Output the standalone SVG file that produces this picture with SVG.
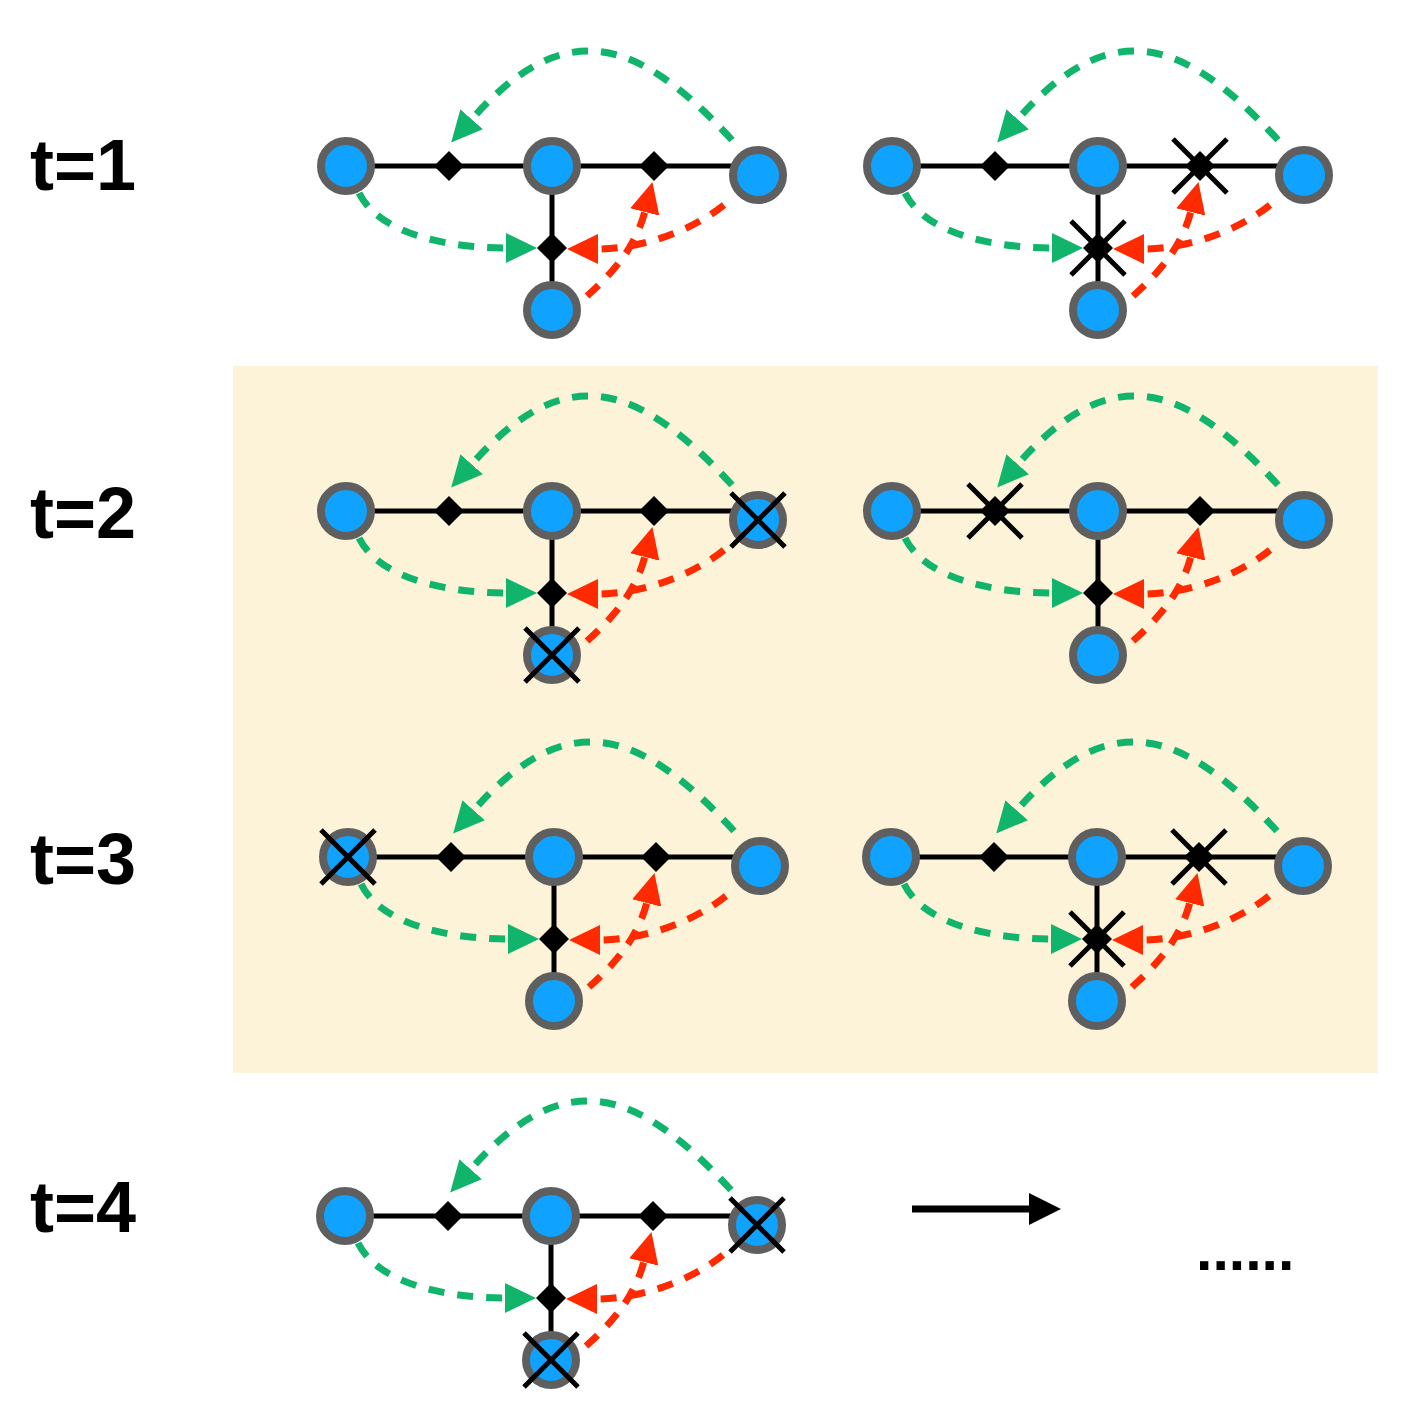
<svg xmlns="http://www.w3.org/2000/svg" xmlns:xlink="http://www.w3.org/1999/xlink" width="1408" height="1412" viewBox="0 0 1408 1412">
<style>
.edge{fill:none;stroke:#000;stroke-width:5}
.node{fill:#10a2ff;stroke:#5f5f5f;stroke-width:8}
.dia{fill:#000}
.xm{fill:none;stroke:#000;stroke-width:5}
.g{fill:none;stroke:#10b46a;stroke-width:7;stroke-dasharray:16 13}
.r{fill:none;stroke:#ff2a00;stroke-width:7;stroke-dasharray:16 13}
.lbl{font-family:"Liberation Sans",Arial,sans-serif;font-weight:bold;font-size:72px;fill:#000}
</style>
<defs>
<marker id="ag" markerUnits="userSpaceOnUse" viewBox="0 0 31 30" refX="1" refY="15" markerWidth="31" markerHeight="30" orient="auto"><path d="M0,0 L31,15 L0,30 Z" fill="#10b46a"/></marker>
<marker id="ar" markerUnits="userSpaceOnUse" viewBox="0 0 31 30" refX="1" refY="15" markerWidth="31" markerHeight="30" orient="auto"><path d="M0,0 L31,15 L0,30 Z" fill="#ff2a00"/></marker>
<path id="dm" class="dia" d="M0,-15 L15,0 L0,15 L-15,0 Z"/>
<path id="xx" class="xm" d="M-27,-27 L27,27 M27,-27 L-27,27"/>
</defs>
<rect x="0" y="0" width="1408" height="1412" fill="#fff"/>
<rect id="panel" x="233" y="366" width="1145" height="707" fill="#fdf3d9"/>

<g id="labels">
<text class="lbl" x="30" y="190">t=1</text>
<text class="lbl" x="30" y="538">t=2</text>
<text class="lbl" x="30" y="884">t=3</text>
<text class="lbl" x="30" y="1232">t=4</text>
</g>

<!-- t=1 left -->
<g id="t1a" transform="translate(0,0)">
<g id="t1a-edges"><path class="edge" d="M346,166 H758 M552,166 V310"/></g>
<g id="t1a-n1"><circle class="node" cx="346" cy="166" r="25"/></g>
<g id="t1a-n2"><circle class="node" cx="552" cy="166" r="25"/></g>
<g id="t1a-n3"><circle class="node" cx="758" cy="175" r="25"/></g>
<g id="t1a-n4"><circle class="node" cx="552" cy="310" r="25"/></g>
<g id="t1a-d1"><use xlink:href="#dm" x="449" y="166"/></g>
<g id="t1a-d2"><use xlink:href="#dm" x="654" y="166"/></g>
<g id="t1a-d3"><use xlink:href="#dm" x="552" y="248"/></g>
<g id="t1a-links">
<path class="g" d="M732,140 C640,40 566,12 471,120" marker-end="url(#ag)"/>
<path class="g" d="M359,193 C380,235 450,248 507,248" marker-end="url(#ag)"/>
<path class="r" d="M587,296 C610,275 635,250 645,211" marker-end="url(#ar)"/>
<path class="r" d="M724,205 C690,232 640,249 597,249" marker-end="url(#ar)"/>
</g>
</g>

<!-- t=1 right -->
<g id="t1b" transform="translate(546,0)">
<g id="t1b-edges"><path class="edge" d="M346,166 H758 M552,166 V310"/></g>
<g id="t1b-n1"><circle class="node" cx="346" cy="166" r="25"/></g>
<g id="t1b-n2"><circle class="node" cx="552" cy="166" r="25"/></g>
<g id="t1b-n3"><circle class="node" cx="758" cy="175" r="25"/></g>
<g id="t1b-n4"><circle class="node" cx="552" cy="310" r="25"/></g>
<g id="t1b-d1"><use xlink:href="#dm" x="449" y="166"/></g>
<g id="t1b-d2"><use xlink:href="#dm" x="654" y="166"/><use xlink:href="#xx" x="654" y="166"/></g>
<g id="t1b-d3"><use xlink:href="#dm" x="552" y="248"/><use xlink:href="#xx" x="552" y="248"/></g>
<g id="t1b-links">
<path class="g" d="M732,140 C640,40 566,12 471,120" marker-end="url(#ag)"/>
<path class="g" d="M359,193 C380,235 450,248 507,248" marker-end="url(#ag)"/>
<path class="r" d="M587,296 C610,275 635,250 645,211" marker-end="url(#ar)"/>
<path class="r" d="M724,205 C690,232 640,249 597,249" marker-end="url(#ar)"/>
</g>
</g>

<!-- t=2 left -->
<g id="t2a" transform="translate(0,345)">
<g id="t2a-edges"><path class="edge" d="M346,166 H758 M552,166 V310"/></g>
<g id="t2a-n1"><circle class="node" cx="346" cy="166" r="25"/></g>
<g id="t2a-n2"><circle class="node" cx="552" cy="166" r="25"/></g>
<g id="t2a-n3"><circle class="node" cx="758" cy="175" r="25"/><use xlink:href="#xx" x="758" y="175"/></g>
<g id="t2a-n4"><circle class="node" cx="552" cy="310" r="25"/><use xlink:href="#xx" x="552" y="310"/></g>
<g id="t2a-d1"><use xlink:href="#dm" x="449" y="166"/></g>
<g id="t2a-d2"><use xlink:href="#dm" x="654" y="166"/></g>
<g id="t2a-d3"><use xlink:href="#dm" x="552" y="248"/></g>
<g id="t2a-links">
<path class="g" d="M732,140 C640,40 566,12 471,120" marker-end="url(#ag)"/>
<path class="g" d="M359,193 C380,235 450,248 507,248" marker-end="url(#ag)"/>
<path class="r" d="M587,296 C610,275 635,250 645,211" marker-end="url(#ar)"/>
<path class="r" d="M724,205 C690,232 640,249 597,249" marker-end="url(#ar)"/>
</g>
</g>

<!-- t=2 right -->
<g id="t2b" transform="translate(546,345)">
<g id="t2b-edges"><path class="edge" d="M346,166 H758 M552,166 V310"/></g>
<g id="t2b-n1"><circle class="node" cx="346" cy="166" r="25"/></g>
<g id="t2b-n2"><circle class="node" cx="552" cy="166" r="25"/></g>
<g id="t2b-n3"><circle class="node" cx="758" cy="175" r="25"/></g>
<g id="t2b-n4"><circle class="node" cx="552" cy="310" r="25"/></g>
<g id="t2b-d1"><use xlink:href="#dm" x="449" y="166"/><use xlink:href="#xx" x="449" y="166"/></g>
<g id="t2b-d2"><use xlink:href="#dm" x="654" y="166"/></g>
<g id="t2b-d3"><use xlink:href="#dm" x="552" y="248"/></g>
<g id="t2b-links">
<path class="g" d="M732,140 C640,40 566,12 471,120" marker-end="url(#ag)"/>
<path class="g" d="M359,193 C380,235 450,248 507,248" marker-end="url(#ag)"/>
<path class="r" d="M587,296 C610,275 635,250 645,211" marker-end="url(#ar)"/>
<path class="r" d="M724,205 C690,232 640,249 597,249" marker-end="url(#ar)"/>
</g>
</g>

<!-- t=3 left -->
<g id="t3a" transform="translate(2,691)">
<g id="t3a-edges"><path class="edge" d="M346,166 H758 M552,166 V310"/></g>
<g id="t3a-n1"><circle class="node" cx="346" cy="166" r="25"/><use xlink:href="#xx" x="346" y="166"/></g>
<g id="t3a-n2"><circle class="node" cx="552" cy="166" r="25"/></g>
<g id="t3a-n3"><circle class="node" cx="758" cy="175" r="25"/></g>
<g id="t3a-n4"><circle class="node" cx="552" cy="310" r="25"/></g>
<g id="t3a-d1"><use xlink:href="#dm" x="449" y="166"/></g>
<g id="t3a-d2"><use xlink:href="#dm" x="654" y="166"/></g>
<g id="t3a-d3"><use xlink:href="#dm" x="552" y="248"/></g>
<g id="t3a-links">
<path class="g" d="M732,140 C640,40 566,12 471,120" marker-end="url(#ag)"/>
<path class="g" d="M359,193 C380,235 450,248 507,248" marker-end="url(#ag)"/>
<path class="r" d="M587,296 C610,275 635,250 645,211" marker-end="url(#ar)"/>
<path class="r" d="M724,205 C690,232 640,249 597,249" marker-end="url(#ar)"/>
</g>
</g>

<!-- t=3 right -->
<g id="t3b" transform="translate(545,691)">
<g id="t3b-edges"><path class="edge" d="M346,166 H758 M552,166 V310"/></g>
<g id="t3b-n1"><circle class="node" cx="346" cy="166" r="25"/></g>
<g id="t3b-n2"><circle class="node" cx="552" cy="166" r="25"/></g>
<g id="t3b-n3"><circle class="node" cx="758" cy="175" r="25"/></g>
<g id="t3b-n4"><circle class="node" cx="552" cy="310" r="25"/></g>
<g id="t3b-d1"><use xlink:href="#dm" x="449" y="166"/></g>
<g id="t3b-d2"><use xlink:href="#dm" x="654" y="166"/><use xlink:href="#xx" x="654" y="166"/></g>
<g id="t3b-d3"><use xlink:href="#dm" x="552" y="248"/><use xlink:href="#xx" x="552" y="248"/></g>
<g id="t3b-links">
<path class="g" d="M732,140 C640,40 566,12 471,120" marker-end="url(#ag)"/>
<path class="g" d="M359,193 C380,235 450,248 507,248" marker-end="url(#ag)"/>
<path class="r" d="M587,296 C610,275 635,250 645,211" marker-end="url(#ar)"/>
<path class="r" d="M724,205 C690,232 640,249 597,249" marker-end="url(#ar)"/>
</g>
</g>

<!-- t=4 left -->
<g id="t4a" transform="translate(-1,1050)">
<g id="t4a-edges"><path class="edge" d="M346,166 H758 M552,166 V310"/></g>
<g id="t4a-n1"><circle class="node" cx="346" cy="166" r="25"/></g>
<g id="t4a-n2"><circle class="node" cx="552" cy="166" r="25"/></g>
<g id="t4a-n3"><circle class="node" cx="758" cy="175" r="25"/><use xlink:href="#xx" x="758" y="175"/></g>
<g id="t4a-n4"><circle class="node" cx="552" cy="310" r="25"/><use xlink:href="#xx" x="552" y="310"/></g>
<g id="t4a-d1"><use xlink:href="#dm" x="449" y="166"/></g>
<g id="t4a-d2"><use xlink:href="#dm" x="654" y="166"/></g>
<g id="t4a-d3"><use xlink:href="#dm" x="552" y="248"/></g>
<g id="t4a-links">
<path class="g" d="M732,140 C640,40 566,12 471,120" marker-end="url(#ag)"/>
<path class="g" d="M359,193 C380,235 450,248 507,248" marker-end="url(#ag)"/>
<path class="r" d="M587,296 C610,275 635,250 645,211" marker-end="url(#ar)"/>
<path class="r" d="M724,205 C690,232 640,249 597,249" marker-end="url(#ar)"/>
</g>
</g>

<g id="next-arrow">
<path d="M912,1209 H1031" fill="none" stroke="#000" stroke-width="7"/>
<path d="M1029,1193 L1061,1209 L1029,1225 Z" fill="#000"/>
</g>
<text id="ellipsis" x="1196" y="1270" font-family="'Liberation Sans',Arial,sans-serif" font-weight="bold" font-size="59" fill="#000">......</text>
</svg>
